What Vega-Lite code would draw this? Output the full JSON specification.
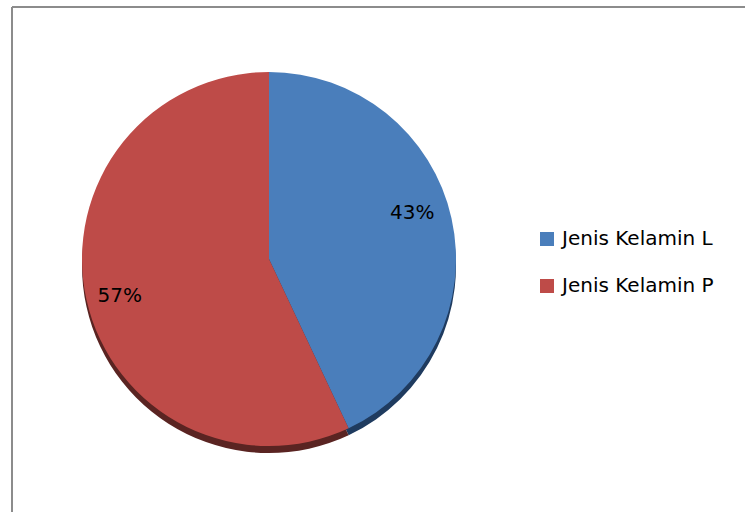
{
  "$schema": "https://vega.github.io/schema/vega-lite/v6.json",
  "width": 733,
  "height": 505,
  "padding": {"left": 12, "top": 7, "right": 0, "bottom": 0},
  "autosize": {"type": "none"},
  "background": "white",
  "config": {
    "view": {"stroke": null},
    "font": "DejaVu Sans"
  },
  "data": {
    "values": [
      {"jenis": "Jenis Kelamin L", "persen": 43, "label": "43%"},
      {"jenis": "Jenis Kelamin P", "persen": 57, "label": "57%"}
    ]
  },
  "layer": [
    {
      "data": {"values": [{"frame": 1}]},
      "mark": {"type": "rule", "stroke": "#8c8c8c", "strokeWidth": 2, "clip": false},
      "encoding": {
        "x": {"value": 0},
        "x2": {"value": 740},
        "y": {"value": 0}
      }
    },
    {
      "data": {"values": [{"frame": 1}]},
      "mark": {"type": "rule", "stroke": "#8c8c8c", "strokeWidth": 2, "clip": false},
      "encoding": {
        "x": {"value": 0},
        "y": {"value": 0},
        "y2": {"value": 510}
      }
    },
    {
      "mark": {"type": "arc", "radius": 187, "x": 257, "y": 252, "yOffset": 7, "stroke": null},
      "encoding": {
        "theta": {"field": "persen", "type": "quantitative", "stack": true},
        "color": {
          "field": "jenis",
          "type": "nominal",
          "scale": {"domain": ["Jenis Kelamin L", "Jenis Kelamin P"], "range": ["#1f3b5f", "#5a2422"]},
          "legend": null
        }
      }
    },
    {
      "mark": {"type": "arc", "radius": 187, "x": 257, "y": 252, "stroke": null},
      "encoding": {
        "theta": {"field": "persen", "type": "quantitative", "stack": true},
        "color": {
          "field": "jenis",
          "type": "nominal",
          "scale": {"domain": ["Jenis Kelamin L", "Jenis Kelamin P"], "range": ["#4a7ebb", "#be4b48"]},
          "legend": {
            "title": null,
            "orient": "none",
            "legendX": 525,
            "legendY": 222,
            "symbolType": "square",
            "symbolSize": 196,
            "symbolStrokeWidth": 0,
            "labelFontSize": 20,
            "labelColor": "#000000",
            "labelOffset": 5,
            "rowPadding": 27
          }
        }
      }
    },
    {
      "mark": {
        "type": "text",
        "radius": 153,
        "x": 257,
        "y": 252,
        "fontSize": 20,
        "color": "#000000",
        "dx": {"expr": "datum.jenis == 'Jenis Kelamin L' ? -6 : 0"},
        "dy": {"expr": "datum.jenis == 'Jenis Kelamin L' ? -13 : 4"}
      },
      "encoding": {
        "theta": {"field": "persen", "type": "quantitative", "stack": true},
        "text": {"field": "label", "type": "nominal"},
        "detail": {"field": "jenis", "type": "nominal"}
      }
    }
  ],
  "resolve": {"scale": {"color": "independent"}}
}
